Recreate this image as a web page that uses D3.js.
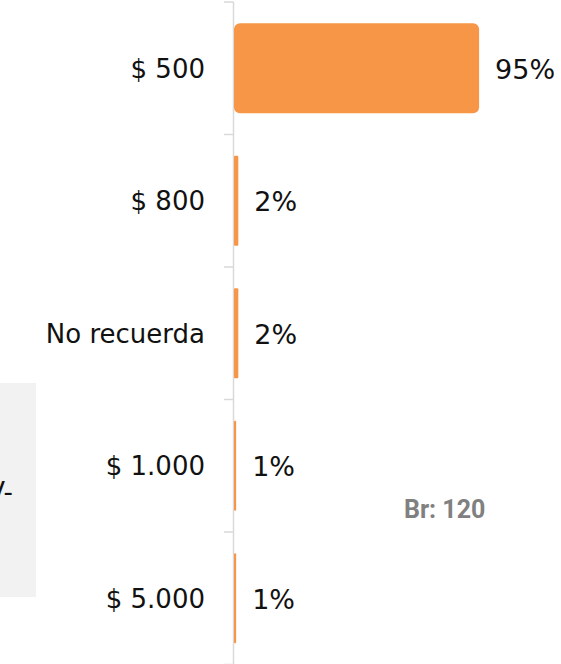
<!DOCTYPE html>
<html>
<head>
<meta charset="utf-8">
<script src="https://cdn.jsdelivr.net/npm/d3@7"></script>
<style>
  html, body { margin: 0; padding: 0; background: #fff; }
  svg { display: block; }
  .cat { font-family: "DejaVu Sans", sans-serif; font-size: 26px; fill: #111; }
  .val { font-family: "DejaVu Sans", sans-serif; font-size: 27px; fill: #111; }
  .base { font-family: Roboto, sans-serif; font-weight: bold; font-size: 25px; fill: #808080; }
</style>
</head>
<body>
<svg id="chart"></svg>
<script>
// answers and share of respondents (%), n = 120
var categories = ['$ 500', '$ 800', 'No recuerda', '$ 1.000', '$ 5.000'];
var values = [95, 1.67, 1.67, 0.83, 0.83];
var baseLabel = 'Br: 120';

var width = 561, height = 664;
var svg = d3.select('#chart').attr('width', width).attr('height', height);

// piece of a neighbouring panel that shows at the left edge
svg.append('rect').attr('x', 0).attr('y', 383).attr('width', 36).attr('height', 214).attr('fill', '#f2f2f2');
svg.append('text').attr('class', 'cat').attr('x', 13).attr('y', 501).attr('text-anchor', 'end').text('V-');

var data = categories.map(function(c, i) { return {cat: c, value: values[i]}; });

var yScale = d3.scaleBand().domain(categories).range([2, 664.5]).paddingInner(0.32).paddingOuter(0.16);
var xScale = d3.scaleLinear().domain([0, 100]).range([234, 492]);
var fmt = function(v) { return Math.round(v) + '%'; };

// axis line with ticks on band boundaries
var step = yScale.step();
var bounds = categories.map(function(c) { return yScale(c) - step * 0.16; });
bounds.push(bounds[bounds.length - 1] + step);

var axisG = svg.append('g');
axisG.append('line')
  .attr('x1', 233.5).attr('x2', 233.5)
  .attr('y1', bounds[0]).attr('y2', bounds[bounds.length - 1])
  .attr('stroke', '#d9d9d9').attr('stroke-width', 1.5);
axisG.selectAll('.tick').data(bounds).enter().append('line')
  .attr('x1', 224).attr('x2', 233.5)
  .attr('y1', function(d) { return d; }).attr('y2', function(d) { return d; })
  .attr('stroke', '#d9d9d9').attr('stroke-width', 1.5);

svg.selectAll('rect.bar')
  .data(data)
  .enter()
  .append('rect')
  .attr('class', 'bar')
  .attr('x', xScale(0))
  .attr('y', function(d) { return yScale(d.cat); })
  .attr('width', function(d) { return xScale(d.value) - xScale(0); })
  .attr('height', yScale.bandwidth())
  .attr('rx', function(d) { return d.value > 10 ? 6 : 1; })
  .attr('fill', '#f79646');

svg.selectAll('text.catlabel')
  .data(data)
  .enter()
  .append('text')
  .attr('class', 'cat catlabel')
  .attr('x', 205)
  .attr('y', function(d) { return yScale(d.cat) + yScale.bandwidth() / 2; })
  .attr('dy', '0.36em')
  .attr('text-anchor', 'end')
  .text(function(d) { return d.cat; });

svg.selectAll('text.vallabel')
  .data(data)
  .enter()
  .append('text')
  .attr('class', 'val vallabel')
  .attr('x', function(d) { return xScale(d.value) + 16; })
  .attr('y', function(d) { return yScale(d.cat) + yScale.bandwidth() / 2; })
  .attr('dy', '0.38em')
  .text(function(d) { return fmt(d.value); });

svg.append('text').attr('class', 'base').attr('x', 404).attr('y', 518).text(baseLabel);
</script>
</body>
</html>
